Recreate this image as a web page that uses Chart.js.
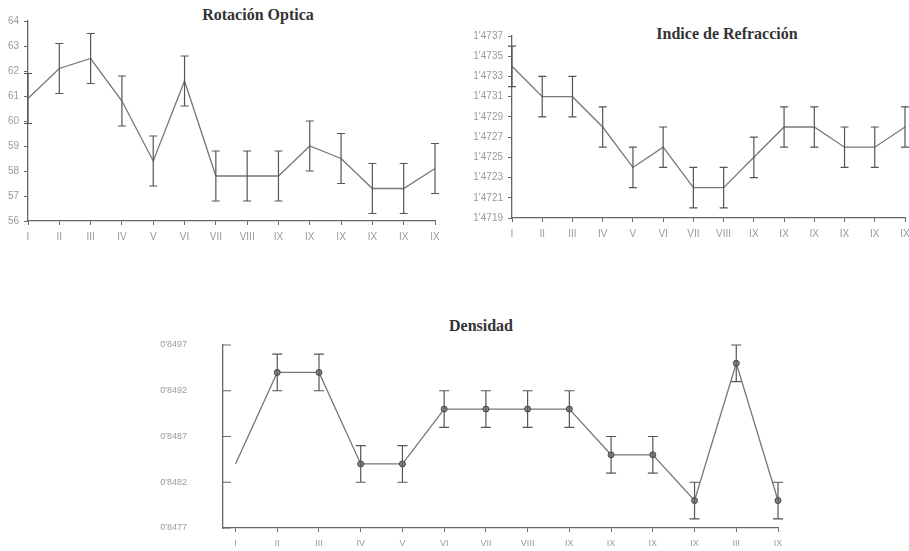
<!DOCTYPE html>
<html>
<head>
<meta charset="utf-8">
<script src="https://cdn.jsdelivr.net/npm/chart.js@4.4.1/dist/chart.umd.min.js"></script>
<style>
  body { margin: 0; background: #fff; width: 909px; height: 551px; position: relative; overflow: hidden; }
  canvas { position: absolute; }
  .titulo { position: absolute; font-family: "Liberation Serif", "DejaVu Serif", serif; font-weight: bold; font-size: 16px; color: #333; white-space: nowrap; transform: translate(-50%, -50%); }
</style>
</head>
<body>
<div class="titulo" style="left:258px; top:15px;">Rotación Optica</div>
<div class="titulo" style="left:727px; top:34px;">Indice de Refracción</div>
<div class="titulo" style="left:481px; top:326px;">Densidad</div>
<canvas id="rotacionChart" style="left:0; top:0;" width="450" height="245"></canvas>
<canvas id="refraccionChart" style="left:450px; top:0;" width="459" height="245"></canvas>
<canvas id="densidadChart" style="left:150px; top:300px;" width="660" height="251"></canvas>
<script>
// etiquetas de las muestras
const rotLabels = ["I", "II", "III", "IV", "V", "VI", "VII", "VIII", "IX", "IX", "IX", "IX", "IX", "IX"];
const refLabels = ["I", "II", "III", "IV", "V", "VI", "VII", "VIII", "IX", "IX", "IX", "IX", "IX", "IX"];
const denLabels = ["I", "II", "III", "IV", "V", "VI", "VII", "VIII", "IX", "IX", "IX", "IX", "III", "IX"];

// Rotación óptica
const rotValues = [60.9, 62.1, 62.5, 60.8, 58.4, 61.6, 57.8, 57.8, 57.8, 59.0, 58.5, 57.3, 57.3, 58.1];
const rotErrors = [1, 1, 1, 1, 1, 1, 1, 1, 1, 1, 1, 1, 1, 1];

// Índice de refracción
const refValues = [1.4734, 1.4731, 1.4731, 1.4728, 1.4724, 1.4726, 1.4722, 1.4722, 1.4725, 1.4728, 1.4728, 1.4726, 1.4726, 1.4728];
const refErrors = [0.0002, 0.0002, 0.0002, 0.0002, 0.0002, 0.0002, 0.0002, 0.0002, 0.0002, 0.0002, 0.0002, 0.0002, 0.0002, 0.0002];

// Densidad
const denValues = [0.8484, 0.8494, 0.8494, 0.8484, 0.8484, 0.8490, 0.8490, 0.8490, 0.8490, 0.8485, 0.8485, 0.8480, 0.8495, 0.8480];
const denErrors = [0, 0.0002, 0.0002, 0.0002, 0.0002, 0.0002, 0.0002, 0.0002, 0.0002, 0.0002, 0.0002, 0.0002, 0.0002, 0.0002];

const tickColor = "#9a9a9a";
const axisColor = "#666";

// barras de error + marcas interiores del eje Y
const errorBarsPlugin = {
  id: "errorBars",
  afterDatasetsDraw(chart, args, opts) {
    const ctx = chart.ctx;
    const yScale = chart.scales.y;
    ctx.save();
    ctx.strokeStyle = opts.color || "#555";
    ctx.lineWidth = 1.2;
    chart.data.datasets.forEach((ds, di) => {
      const meta = chart.getDatasetMeta(di);
      meta.data.forEach((pt, i) => {
        const e = ds.errors[i];
        if (!e) return;
        const v = ds.data[i].y;
        const yTop = yScale.getPixelForValue(v + e);
        const yBot = yScale.getPixelForValue(v - e);
        const cap = opts.cap || 4;
        ctx.beginPath();
        ctx.moveTo(pt.x, yTop); ctx.lineTo(pt.x, yBot);
        ctx.moveTo(pt.x - cap, yTop); ctx.lineTo(pt.x + cap, yTop);
        ctx.moveTo(pt.x - cap, yBot); ctx.lineTo(pt.x + cap, yBot);
        ctx.stroke();
      });
    });
    if (opts.innerTicks) {
      ctx.strokeStyle = axisColor;
      ctx.lineWidth = 1;
      yScale.ticks.forEach(t => {
        const y = yScale.getPixelForValue(t.value);
        ctx.beginPath();
        ctx.moveTo(chart.chartArea.left, y);
        ctx.lineTo(chart.chartArea.left + opts.innerTicks, y);
        ctx.stroke();
      });
    }
    ctx.restore();
  }
};

function makeChart(id, labels, values, errors, cfg) {
  const ctx = document.getElementById(id).getContext("2d");
  const tickFont = { family: "Liberation Sans, Arial, sans-serif", size: cfg.fontSize || 9 };
  return new Chart(ctx, {
    type: "line",
    data: {
      datasets: [{
        data: values.map((v, i) => ({ x: i, y: v })),
        errors: errors,
        borderColor: "#777",
        borderWidth: 1.3,
        pointRadius: cfg.pointRadius || 0,
        pointBackgroundColor: "#888",
        pointBorderColor: "#444",
        pointBorderWidth: 1,
        tension: 0,
        clip: false
      }]
    },
    options: {
      responsive: false,
      animation: false,
      layout: { padding: cfg.padding },
      plugins: {
        legend: { display: false },
        tooltip: { enabled: false },
        errorBars: { cap: cfg.cap, innerTicks: cfg.innerTicks }
      },
      scales: {
        x: {
          type: "linear",
          min: cfg.xMin,
          max: labels.length - 1,
          afterFit: s => { s.height = cfg.xHeight; s.paddingLeft = 0; s.paddingRight = 0; },
          border: { color: axisColor, width: 1.3 },
          grid: { drawOnChartArea: false, drawTicks: true, tickLength: 4, color: axisColor },
          ticks: {
            stepSize: 1,
            autoSkip: false,
            includeBounds: false,
            maxRotation: 0,
            padding: cfg.xPad,
            font: tickFont,
            color: tickColor,
            callback: v => Number.isInteger(v) ? labels[v] : ""
          }
        },
        y: {
          min: cfg.yMin,
          max: cfg.yMax,
          afterFit: s => { s.width = cfg.yWidth; s.paddingTop = 0; s.paddingBottom = 0; },
          border: { color: axisColor, width: 1.3 },
          grid: { drawOnChartArea: false, drawTicks: !cfg.innerTicks, tickLength: cfg.innerTicks ? 0 : 4, color: axisColor },
          ticks: {
            stepSize: cfg.yStep,
            padding: cfg.yPad,
            font: tickFont,
            color: tickColor,
            callback: v => cfg.yFmt(v)
          }
        }
      }
    },
    plugins: [errorBarsPlugin]
  });
}

makeChart("rotacionChart", rotLabels, rotValues, rotErrors, {
  padding: { top: 21, right: 15, left: 0, bottom: 0 },
  xMin: 0, xHeight: 24, xPad: 6, fontSize: 10,
  yMin: 56, yMax: 64, yStep: 1, yWidth: 28, yPad: 5,
  yFmt: v => String(Math.round(v)),
  cap: 4
});

makeChart("refraccionChart", refLabels, refValues, refErrors, {
  padding: { top: 36, right: 4, left: 0, bottom: 0 },
  xMin: 0, xHeight: 27, xPad: 6, fontSize: 10,
  yMin: 1.4719, yMax: 1.4737, yStep: 0.0002, yWidth: 62, yPad: 5,
  yFmt: v => v.toFixed(4).replace(".", "'"),
  cap: 4
});

makeChart("densidadChart", denLabels, denValues, denErrors, {
  padding: { top: 45, right: 32, left: 0, bottom: 0 },
  xMin: -0.3, xHeight: 23, xPad: 6, fontSize: 9,
  yMin: 0.8477, yMax: 0.8497, yStep: 0.0005, yWidth: 73, yPad: 36,
  yFmt: v => v.toFixed(4).replace(".", "'"),
  pointRadius: [0, 3, 3, 3, 3, 3, 3, 3, 3, 3, 3, 3, 3, 3],
  cap: 5,
  innerTicks: 8
});
</script>
</body>
</html>
